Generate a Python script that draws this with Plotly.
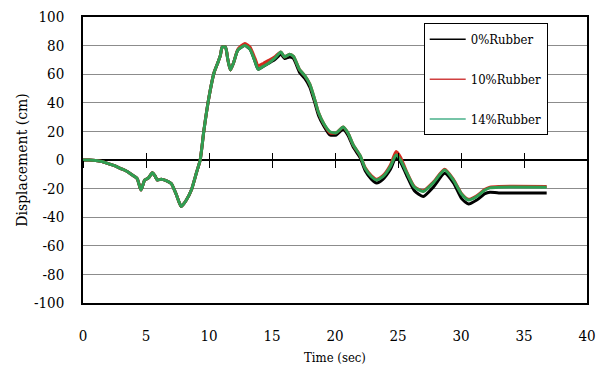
import plotly.graph_objects as go

# Time (sec)
time = [0, 0.5, 1.0, 1.5, 2.0, 2.5, 3.0, 3.5, 4.0, 4.3, 4.6, 4.9, 5.2, 5.5, 5.7,
        5.9, 6.2, 6.6, 7.0, 7.4, 7.8, 8.2, 8.6, 9.0, 9.3, 9.6, 10.0, 10.4, 10.7,
        10.9, 11.05, 11.3, 11.5, 11.7, 11.95, 12.3, 12.85, 13.25, 13.65, 13.9,
        14.3, 14.7, 15.2, 15.7, 16.0, 16.4, 16.7, 17.2, 17.6, 18.0, 18.4, 18.7,
        19.1, 19.6, 20.1, 20.65, 21.05, 21.45, 22.0, 22.4, 22.9, 23.3, 23.8,
        24.4, 24.85, 25.2, 25.7, 26.3, 27.0, 27.8, 28.7, 29.4, 30.05, 30.6,
        31.25, 31.9, 32.3, 33.0, 36.8]

# Displacement (cm) for each rubber content
rubber_0 = [0, 0, -0.3, -1, -2.5, -4, -6, -8, -11, -13, -21, -14, -12.5, -9, -11,
            -14, -13.5, -14.5, -16.5, -24, -32.5, -28, -21, -9, 0, 21, 44, 61, 68,
            73, 79, 79, 70, 63, 68, 77, 80, 77.5, 69, 63.5,
            65.5, 67.5, 70, 74, 71, 72, 71, 61, 57, 51, 40, 31,
            24, 17.5, 17.5, 21.5, 17, 9, 1.5, -7.5, -13.5, -16, -13.5,
            -6.5, 2, -1.5, -11, -21.5, -25.5, -19, -9.3, -16, -27, -30.8,
            -28, -23.5, -22.5, -23, -23]

rubber_10 = [0, 0, -0.3, -1, -2.5, -4, -6, -8, -11, -13, -21, -14, -12.5, -9, -11,
             -14, -13.5, -14.5, -16.5, -24, -32.5, -28, -21, -9, 0, 21, 44, 61, 68,
             73, 79, 79, 70, 63, 68, 77.5, 81.5, 79, 71, 66,
             67.5, 69.5, 72, 75.5, 72, 74, 72.5, 63, 59, 53, 42, 33,
             25.5, 19, 19, 23, 18.5, 10.5, 3, -5.5, -11, -13.5, -11,
             -3.5, 6, 2, -8.5, -18.5, -21.5, -15.5, -6.5, -13.5, -23.5, -27.5,
             -25, -20.5, -19, -18.5, -18.5]

rubber_14 = [0, 0, -0.3, -1, -2.5, -4, -6, -8, -11, -13, -21, -14, -12.5, -9, -11,
             -14, -13.5, -14.5, -16.5, -24, -32.5, -28, -21, -9, 0, 21, 44, 61, 68,
             73, 79, 79, 70, 63, 68, 77, 80, 77.5, 69, 63.5,
             65.5, 67.5, 71, 75.5, 72, 74, 72.5, 63, 59, 53, 42, 33,
             25.5, 19.8, 19, 23, 18.5, 10.5, 3, -6, -11.7, -14, -11.7,
             -4.5, 3.5, 0, -9, -19, -22, -16, -7, -14, -24, -28,
             -25.5, -21, -19.5, -19, -19]

x_ticks = [0, 5, 10, 15, 20, 25, 30, 35, 40]
y_ticks = [-100, -80, -60, -40, -20, 0, 20, 40, 60, 80, 100]

series = [
    ("0%Rubber", rubber_0, "#000000", "#000000"),
    ("10%Rubber", rubber_10, "#d42a1e", "#d04040"),
    ("14%Rubber", rubber_14, "#2f9e52", "#48b08a"),
]

serif_narrow = "DejaVu Serif Condensed, DejaVu Serif, serif"
serif = "DejaVu Serif, serif"

fig = go.Figure()

# placeholder traces so the overlay axes carrying the zero-line ticks are drawn
for ax in ("x2", "x3"):
    fig.add_trace(go.Scatter(
        x=[x_ticks[0], x_ticks[-1]], y=[None, None], xaxis=ax, yaxis="y",
        mode="lines", showlegend=False, hoverinfo="skip",
    ))

for i, (name, vals, color, _) in enumerate(series):
    fig.add_trace(go.Scatter(
        x=time, y=vals, name=name, mode="lines",
        line=dict(color=color, width=3, shape="spline", smoothing=0.6),
        legendgroup=f"g{i}", showlegend=False,
    ))

# legend keys drawn with thin lines
for i, (name, _, _, key_color) in enumerate(series):
    fig.add_trace(go.Scatter(
        x=[None], y=[None], name=name, mode="lines",
        line=dict(color=key_color, width=1.5),
        legendgroup=f"g{i}", showlegend=True, hoverinfo="skip",
    ))

fig.update_layout(
    width=601, height=378,
    margin=dict(l=83, r=14, t=17, b=75),
    paper_bgcolor="white", plot_bgcolor="white",
    font=dict(family=serif_narrow, color="black", size=15),
    showlegend=True,
    legend=dict(
        x=0.676, y=0.978, xanchor="left", yanchor="top",
        bgcolor="white", bordercolor="black", borderwidth=1,
        font=dict(family=serif_narrow, size=13, color="black"),
        tracegroupgap=20, itemwidth=36,
    ),
    xaxis=dict(
        range=[0, 40], tickvals=x_ticks, ticktext=[str(v) for v in x_ticks],
        showgrid=False, zeroline=False, automargin=False,
        showline=True, linecolor="black", linewidth=1.5, mirror=True,
        ticks="", ticklabelstandoff=18,
        title=dict(text="Time (sec)", font=dict(family=serif_narrow, size=13), standoff=9),
    ),
    # tick marks crossing the zero line
    xaxis2=dict(
        overlaying="x", anchor="free", position=0.5, range=[0, 40],
        tickvals=x_ticks, showticklabels=False, showgrid=False, zeroline=False,
        showline=False, ticks="outside", ticklen=7, tickcolor="black", tickwidth=1,
    ),
    xaxis3=dict(
        overlaying="x", anchor="free", position=0.5, range=[0, 40],
        tickvals=x_ticks, showticklabels=False, showgrid=False, zeroline=False,
        showline=False, ticks="inside", ticklen=7, tickcolor="black", tickwidth=1,
    ),
    yaxis=dict(
        range=[-100, 100], tickvals=y_ticks, ticktext=[str(v) for v in y_ticks],
        showgrid=True, gridcolor="#8c8c8c", gridwidth=1, automargin=False,
        zeroline=True, zerolinecolor="black", zerolinewidth=1.5,
        showline=True, linecolor="black", linewidth=1.5, mirror=True,
        ticks="", ticklabelstandoff=14,
        title=dict(text="Displacement (cm)", font=dict(family=serif, size=14), standoff=3),
    ),
)

fig.write_html("out.html")
